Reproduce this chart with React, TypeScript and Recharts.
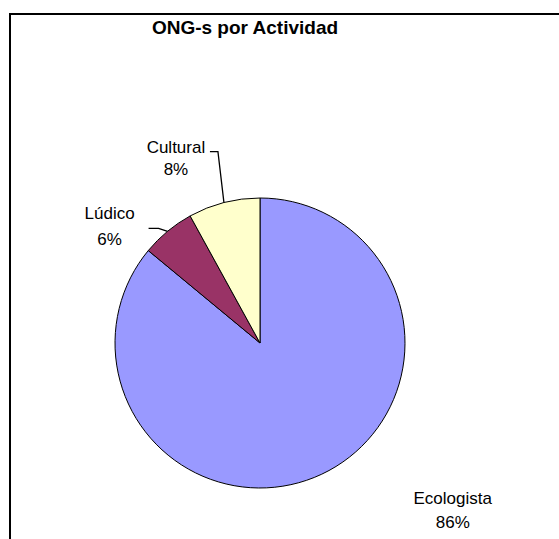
import React from "react";
import { PieChart, Pie, Cell } from "recharts";

const categories = ["Ecologista", "Lúdico", "Cultural"];
const values = [86, 6, 8];
const colors = ["#9999FF", "#993366", "#FFFFCC"];
const title = "ONG-s por Actividad";

const data = categories.map((name, i) => ({ name, value: values[i] }));

// label placement: offset of the first text line from the slice's mid-edge point
const LABEL_OFFSETS: Record<string, { dx: number; dy: number; gap: number; leader: number[][] | null }> = {
  Ecologista: { dx: 131, dy: 24, gap: 24, leader: null },
  "Lúdico": { dx: -58, dy: -18, gap: 26, leader: [[0, 0], [-9, -3], [-19, -3]] },
  Cultural: { dx: -48, dy: -55, gap: 22, leader: [[0, 0], [-6, -51], [-14, -51]] },
};

const RADIAN = Math.PI / 180;
const FONT = "'Liberation Sans', Arial, sans-serif";

const renderLabel = (props: any) => {
  const { cx, cy, midAngle, outerRadius, name, percent } = props;
  const ex = cx + outerRadius * Math.cos(-midAngle * RADIAN);
  const ey = cy + outerRadius * Math.sin(-midAngle * RADIAN);
  const cfg = LABEL_OFFSETS[name];
  const tx = ex + cfg.dx;
  const ty = ey + cfg.dy;
  return (
    <g>
      {cfg.leader && (
        <polyline
          points={cfg.leader.map(([x, y]) => `${ex + x},${ey + y}`).join(" ")}
          fill="none"
          stroke="#000"
          strokeWidth={1.3}
        />
      )}
      <text x={tx} y={ty} textAnchor="middle" dominantBaseline="central" fontFamily={FONT} fontSize={17} fill="#000">
        {name}
      </text>
      <text x={tx} y={ty + cfg.gap} textAnchor="middle" dominantBaseline="central" fontFamily={FONT} fontSize={17} fill="#000">
        {`${Math.round(percent * 100)}%`}
      </text>
    </g>
  );
};

export default function App() {
  return (
    <div style={{ position: "relative", width: 559, height: 539, background: "#fff", overflow: "hidden" }}>
      <style>{`html, body { margin: 0; padding: 0; overflow: hidden; background: #fff; }`}</style>
      <div
        style={{
          position: "absolute",
          left: 9,
          top: 13,
          width: 550,
          height: 526,
          borderTop: "2px solid #000",
          borderLeft: "2px solid #000",
          boxSizing: "border-box",
        }}
      />
      <div
        style={{
          position: "absolute",
          left: 8,
          top: 18,
          width: 474,
          textAlign: "center",
          fontFamily: FONT,
          fontWeight: "bold",
          fontSize: 19,
          lineHeight: "20px",
          color: "#000",
        }}
      >
        {title}
      </div>
      <div style={{ position: "absolute", left: 0, top: 0 }}>
        <PieChart width={559} height={539} margin={{ top: 0, right: 0, bottom: 0, left: 0 }}>
          <Pie
            data={data}
            dataKey="value"
            nameKey="name"
            cx={260}
            cy={343}
            outerRadius={145}
            startAngle={90}
            endAngle={-270}
            stroke="#000"
            strokeWidth={1}
            label={renderLabel}
            labelLine={false}
            isAnimationActive={false}
          >
            {data.map((d, i) => (
              <Cell key={d.name} fill={colors[i]} />
            ))}
          </Pie>
        </PieChart>
      </div>
    </div>
  );
}
